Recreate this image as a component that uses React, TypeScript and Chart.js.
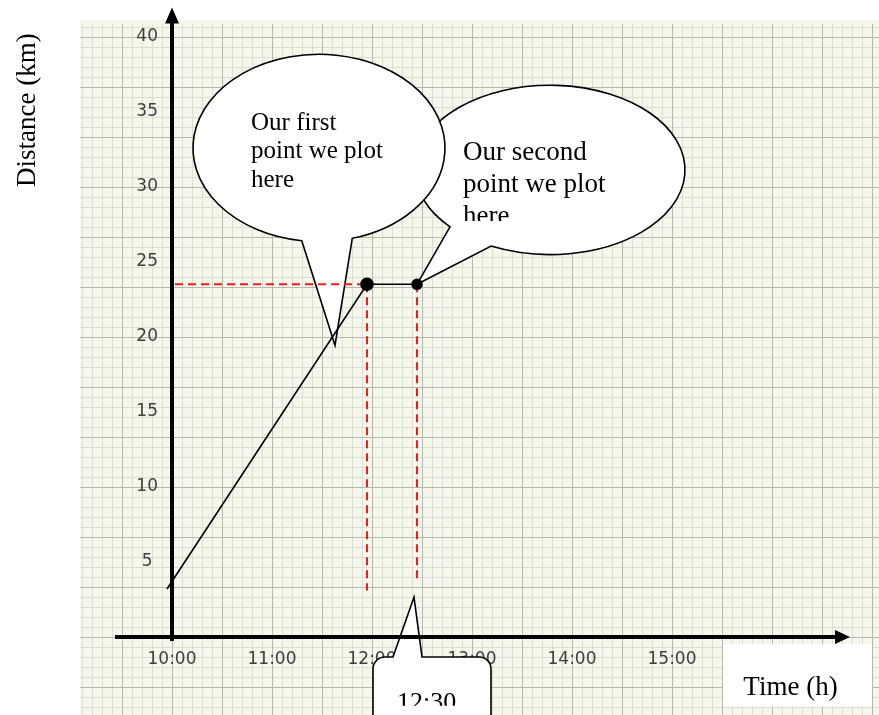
import React, { useEffect, useRef } from 'react';
import { Chart, registerables } from 'chart.js';

Chart.register(...registerables);

// ---- data (time in decimal hours, distance in km) ----
const TIMES = [9.95, 11.95, 12.45];
const DISTANCES = [3.2, 23.5, 23.5];
const POINT_RADII = [0, 6, 5];
const X_TICKS = [10, 11, 12, 13, 14, 15];
const Y_TICKS = [5, 10, 15, 20, 25, 30, 35, 40];
const X_TITLE = 'Time (h)';
const Y_TITLE = 'Distance (km)';
const CALLOUT_FIRST = ['Our first', 'point we plot', 'here'];
const CALLOUT_SECOND = ['Our second', 'point we plot', 'here'];
const CALLOUT_TIME = '12:30';
const DROP_ENDS = [3.1, 3.6];

const SERIF = "'Liberation Serif', 'Times New Roman', serif";
const SANS = "'DejaVu Sans', Verdana, sans-serif";

function calloutEllipse(ctx: CanvasRenderingContext2D, cx: number, cy: number, rx: number, ry: number,
  b1: [number, number], b2: [number, number], tip: [number, number]) {
  const a1 = Math.atan2((b1[1] - cy) / ry, (b1[0] - cx) / rx);
  const a2 = Math.atan2((b2[1] - cy) / ry, (b2[0] - cx) / rx);
  let s = a1;
  let d = (((a2 - a1) % (2 * Math.PI)) + 2 * Math.PI) % (2 * Math.PI);
  if (d < Math.PI) { s = a2; d = 2 * Math.PI - d; }
  ctx.beginPath();
  ctx.ellipse(cx, cy, rx, ry, 0, s, s + d, false);
  ctx.lineTo(tip[0], tip[1]);
  ctx.closePath();
  ctx.fillStyle = '#ffffff';
  ctx.fill();
  ctx.lineWidth = 1.6;
  ctx.strokeStyle = '#000';
  ctx.stroke();
}

const paperPlugin = {
  id: 'paper',
  beforeDraw(chart: any) {
    const { ctx, width, height } = chart;
    const xs = chart.scales.x;
    const ys = chart.scales.y;
    ctx.save();
    ctx.fillStyle = '#ffffff';
    ctx.fillRect(0, 0, width, height);
    const L = 80, T = 20;
    ctx.fillStyle = '#f5f7ec';
    ctx.fillRect(L, T, width - L, height - T);
    ctx.beginPath();
    ctx.rect(L, T + 4, width - L, height - T);
    ctx.clip();
    const drawLines = (major: boolean) => {
      ctx.beginPath();
      for (let k = -20; k <= 80; k++) {
        if ((k % 5 === 0) !== major) continue;
        const p = Math.round(xs.getPixelForValue(10 + k * 0.1)) + 0.5;
        if (p < L || p > width) continue;
        ctx.moveTo(p, T);
        ctx.lineTo(p, height);
      }
      for (let k = -15; k <= 75; k++) {
        if ((k % 5 === 0) !== major) continue;
        const p = Math.round(ys.getPixelForValue((k * 2) / 3)) + 0.5;
        if (p < T || p > height) continue;
        ctx.moveTo(L, p);
        ctx.lineTo(width, p);
      }
      ctx.lineWidth = 1;
      ctx.strokeStyle = major ? '#b4b9ab' : '#dadfd1';
      ctx.stroke();
    };
    drawLines(false);
    drawLines(true);
    ctx.restore();
  },
  beforeDatasetsDraw(chart: any) {
    const { ctx, chartArea } = chart;
    const xs = chart.scales.x;
    const ys = chart.scales.y;
    const X = (v: number) => xs.getPixelForValue(v);
    const Y = (v: number) => ys.getPixelForValue(v);
    ctx.save();

    // y-axis title
    ctx.save();
    ctx.translate(35, Y(35.1));
    ctx.rotate(-Math.PI / 2);
    ctx.font = `27px ${SERIF}`;
    ctx.fillStyle = '#000';
    ctx.textAlign = 'center';
    ctx.textBaseline = 'alphabetic';
    ctx.fillText(Y_TITLE, 0, 0);
    ctx.restore();

    // x-axis title box
    ctx.fillStyle = '#ffffff';
    ctx.fillRect(X(15.51), Y(-0.46), X(17.0) - X(15.51), Y(-4.64) - Y(-0.46));
    ctx.font = `27px ${SERIF}`;
    ctx.fillStyle = '#000';
    ctx.textAlign = 'center';
    ctx.textBaseline = 'alphabetic';
    ctx.fillText(X_TITLE, X(16.185), Y(-3.85));

    // callout 2 (second point)
    const p2: [number, number] = [X(TIMES[2]), Y(DISTANCES[2])];
    const c2x = X(13.78), c2y = Y(31.12);
    calloutEllipse(ctx, c2x, c2y, X(13.78 + 1.35) - c2x, Y(31.12 - 5.64) - c2y,
      [X(12.73), Y(27.14)], [X(13.18), Y(25.95)], p2);
    ctx.save();
    ctx.beginPath();
    ctx.rect(c2x - 150, c2y - 100, 300, 51 + 100);
    ctx.clip();
    ctx.font = `27px ${SERIF}`;
    ctx.fillStyle = '#000';
    ctx.textAlign = 'left';
    CALLOUT_SECOND.forEach((t, i) => ctx.fillText(t, c2x - 87, c2y - 10 + i * 32));
    ctx.restore();

    // callout 1 (first point)
    const c1x = X(11.47), c1y = Y(32.58);
    calloutEllipse(ctx, c1x, c1y, X(11.47 + 1.26) - c1x, Y(32.58 - 6.24) - c1y,
      [X(11.30), Y(26.48)], [X(11.80), Y(26.61)], [X(11.63), Y(19.44)]);
    ctx.font = `25px ${SERIF}`;
    ctx.fillStyle = '#000';
    ctx.textAlign = 'left';
    CALLOUT_FIRST.forEach((t, i) => ctx.fillText(t, c1x - 68, c1y - 18 + i * 28.5));

    // callout 3 (12:30 box)
    const bl = X(12.01), br = X(13.19), bt = Y(-1.33), bb = chart.height + 30, r = 12;
    ctx.beginPath();
    ctx.moveTo(bl, bb);
    ctx.lineTo(bl, bt + r);
    ctx.arcTo(bl, bt, bl + r, bt, r);
    ctx.lineTo(X(12.21), bt);
    ctx.lineTo(X(12.42), Y(2.65));
    ctx.lineTo(X(12.50), bt);
    ctx.lineTo(br - r, bt);
    ctx.arcTo(br, bt, br, bt + r, r);
    ctx.lineTo(br, bb);
    ctx.fillStyle = '#fff';
    ctx.fill();
    ctx.lineWidth = 1.6;
    ctx.strokeStyle = '#000';
    ctx.stroke();
    ctx.save();
    ctx.beginPath();
    ctx.rect(bl, bt, br - bl, Y(-4.58) - bt);
    ctx.clip();
    ctx.font = `26px ${SERIF}`;
    ctx.fillStyle = '#000';
    ctx.textAlign = 'left';
    ctx.fillText(CALLOUT_TIME, X(12.25), Y(-4.84));
    ctx.restore();

    // axes with arrows
    ctx.strokeStyle = '#000';
    ctx.fillStyle = '#000';
    ctx.lineWidth = 4;
    const ax = X(10), ay = Y(0);
    ctx.beginPath();
    ctx.moveTo(ax, ay + 4);
    ctx.lineTo(ax, chartArea.top + 14);
    ctx.stroke();
    ctx.beginPath();
    ctx.moveTo(ax, chartArea.top + 1);
    ctx.lineTo(ax - 7, chartArea.top + 17);
    ctx.lineTo(ax + 7, chartArea.top + 17);
    ctx.closePath();
    ctx.fill();
    ctx.beginPath();
    ctx.moveTo(X(9.43), ay);
    ctx.lineTo(chartArea.right - 12, ay);
    ctx.stroke();
    ctx.beginPath();
    ctx.moveTo(chartArea.right, ay);
    ctx.lineTo(chartArea.right - 15, ay - 7);
    ctx.lineTo(chartArea.right - 15, ay + 7);
    ctx.closePath();
    ctx.fill();

    // red dashed guides
    ctx.strokeStyle = '#f01c1c';
    ctx.lineWidth = 2;
    ctx.setLineDash([8, 5]);
    ctx.beginPath();
    ctx.moveTo(X(10) + 3, Y(DISTANCES[1]));
    ctx.lineTo(X(TIMES[1]), Y(DISTANCES[1]));
    ctx.moveTo(X(TIMES[1]), Y(DISTANCES[1]));
    ctx.lineTo(X(TIMES[1]), Y(DROP_ENDS[0]));
    ctx.moveTo(X(TIMES[2]), Y(DISTANCES[2]));
    ctx.lineTo(X(TIMES[2]), Y(DROP_ENDS[1]));
    ctx.stroke();
    ctx.restore();
  },
};

export default function App() {
  const ref = useRef<HTMLCanvasElement>(null);
  useEffect(() => {
    const canvas = ref.current as HTMLCanvasElement;
    const chart = new Chart(canvas, {
      type: 'line',
      data: {
        datasets: [
          {
            data: TIMES.map((t, i) => ({ x: t, y: DISTANCES[i] })),
            borderColor: '#000',
            borderWidth: 1.6,
            pointRadius: POINT_RADII,
            pointBackgroundColor: '#000',
            pointBorderColor: '#000',
            tension: 0,
            clip: false as any,
          },
        ],
      },
      options: {
        animation: false,
        responsive: false,
        maintainAspectRatio: false,
        devicePixelRatio: 1,
        layout: { padding: { left: 124, right: 29, top: 4, bottom: 0 } },
        plugins: { legend: { display: false }, tooltip: { enabled: false } },
        scales: {
          x: {
            type: 'linear',
            min: 10,
            max: 16.78,
            afterBuildTicks: (s: any) => { s.ticks = X_TICKS.map((v) => ({ value: v })); },
            afterFit: (s: any) => { s.height = 78; s.paddingLeft = 0; s.paddingRight = 0; },
            grid: { display: false, drawTicks: false },
            border: { display: false },
            ticks: {
              callback: (v: any) => `${v}:00`,
              font: { family: SANS, size: 17 },
              color: '#3f3f3f',
              padding: 12,
              maxRotation: 0,
              autoSkip: false,
            },
          },
          y: {
            type: 'linear',
            min: 0,
            max: 42,
            afterBuildTicks: (s: any) => { s.ticks = Y_TICKS.map((v) => ({ value: v })); },
            afterFit: (s: any) => { s.width = 48; s.paddingTop = 0; s.paddingBottom = 0; },
            grid: { display: false, drawTicks: false },
            border: { display: false },
            ticks: {
              crossAlign: 'center',
              font: { family: SANS, size: 17 },
              color: '#3f3f3f',
              padding: 14,
            },
          },
        },
      },
      plugins: [paperPlugin],
    } as any);
    return () => chart.destroy();
  }, []);
  return (
    <div style={{ position: 'absolute', left: 0, top: 0, width: 879, height: 715 }}>
      <canvas ref={ref} width={879} height={715} style={{ display: 'block', width: 879, height: 715 }} />
    </div>
  );
}
